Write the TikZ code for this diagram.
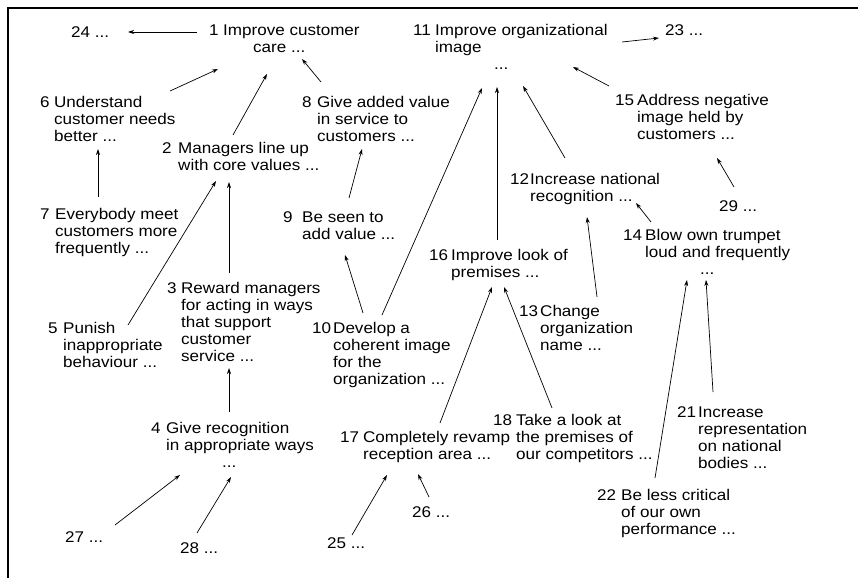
\documentclass[tikz,border=0pt]{standalone}
\usepackage{fontspec}
\setmainfont[FakeStretch=1.1]{Liberation Sans}
\usetikzlibrary{arrows.meta,calc}
\newcommand{\cn}[3]{\begin{tabular}{@{}p{#1pt}@{}l@{}}#2&#3\end{tabular}}
\begin{document}
\begin{tikzpicture}[x=1pt,y=-1pt,
  every node/.style={font=\fontsize{15.5}{16.8}\selectfont,inner sep=0pt,anchor=north west},
  arr/.style={line width=0.7pt,-{Stealth[length=6pt,width=4pt]}},
  frame/.style={line width=2pt}]
\useasboundingbox (0,0) rectangle (858,578);
\draw[frame] (858,8.3) -- (7.7,8.3) -- (7.7,578);
% nodes
\node (n1) at (209,24) {\cn{14}{1}{Improve customer\\&\hspace*{30pt}care ...}};
\node (n24) at (71,26) {24 ...};
\node (n11) at (413,24) {\cn{22}{11}{Improve organizational\\&image\\&\hspace*{59pt}...}};
\node (n23) at (665,24) {23 ...};
\node (n6) at (40,96) {\cn{14}{6}{Understand\\&customer needs\\&better ...}};
\node (n8) at (302,96) {\cn{15}{8}{Give added value\\&in service to\\&customers ...}};
\node (n2) at (162,142) {\cn{16}{2}{Managers line up\\&with core values ...}};
\node (n15) at (615,94) {\cn{22}{15}{Address negative\\&image held by\\&customers ...}};
\node (n12) at (510,173) {\cn{20}{12}{Increase national\\&recognition ...}};
\node (n29) at (719,200) {29 ...};
\node (n7) at (40,208) {\cn{15}{7}{Everybody meet\\&customers more\\&frequently ...}};
\node (n9) at (283,211) {\cn{19}{9}{Be seen to\\&add value ...}};
\node (n14) at (623,229) {\cn{22}{14}{Blow own trumpet\\&loud and frequently\\&\hspace*{55pt}...}};
\node (n16) at (429,249) {\cn{22}{16}{Improve look of\\&premises ...}};
\node (n3) at (167,282) {\cn{14}{3}{Reward managers\\&for acting in ways\\&that support\\&customer\\&service ...}};
\node (n13) at (519,305) {\cn{21}{13}{Change\\&organization\\&name ...}};
\node (n5) at (48,322) {\cn{15}{5}{Punish\\&inappropriate\\&behaviour ...}};
\node (n10) at (312,322) {\cn{21}{10}{Develop a\\&coherent image\\&for the\\&organization ...}};
\node (n21) at (677,406) {\cn{21}{21}{Increase\\&representation\\&on national\\&bodies ...}};
\node (n18) at (493,414) {\cn{23}{18}{Take a look at\\&the premises of\\&our competitors ...}};
\node (n4) at (151,422) {\cn{15}{4}{Give recognition\\&in appropriate ways\\&\hspace*{56pt}...}};
\node (n17) at (340,431) {\cn{23}{17}{Completely revamp\\&reception area ...}};
\node (n22) at (597,489) {\cn{24}{22}{Be less critical\\&of our own\\&performance ...}};
\node (n26) at (412,506) {26 ...};
\node (n27) at (65,531) {27 ...};
\node (n25) at (327,537) {25 ...};
\node (n28) at (180,542) {28 ...};
% connectors
\draw[arr] ($(n1.north west)+(-12,8)$) -- ($(n24.north west)+(57,6)$);
\draw[arr] ($(n11.north west)+(209,18)$) -- ($(n23.north west)+(-6,14)$);
\draw[arr] ($(n6.north west)+(130,-5)$) -- ($(n1.north west)+(9,45)$);
\draw[arr] ($(n2.north west)+(71,-7)$) -- ($(n1.north west)+(58,50)$);
\draw[arr] ($(n8.north west)+(19,-14)$) -- ($(n1.north west)+(93,35)$);
\draw[arr] ($(n7.north west)+(58,-11)$) -- ($(n6.north west)+(58,53)$);
\draw[arr] ($(n5.north west)+(80,3)$) -- ($(n2.north west)+(54,39)$);
\draw[arr] ($(n3.north west)+(62,-9)$) -- ($(n2.north west)+(67,40)$);
\draw[arr] ($(n9.north west)+(66,-13)$) -- ($(n8.north west)+(60,53)$);
\draw[arr] ($(n4.north west)+(78,-10)$) -- ($(n3.north west)+(62,86)$);
\draw[arr] ($(n10.north west)+(51,-9)$) -- ($(n9.north west)+(62,44)$);
\draw[arr] ($(n10.north west)+(70,-7)$) -- ($(n11.north west)+(69,64)$);
\draw[arr] ($(n16.north west)+(68,-9)$) -- ($(n11.north west)+(84,63)$);
\draw[arr] ($(n12.north west)+(55,-15)$) -- ($(n11.north west)+(110,62)$);
\draw[arr] ($(n15.north west)+(-6,-8)$) -- ($(n11.north west)+(160,43)$);
\draw[arr] ($(n29.north west)+(15,-13)$) -- ($(n15.north west)+(102,64)$);
\draw[arr] ($(n14.north west)+(28,-7)$) -- ($(n12.north west)+(126,30)$);
\draw[arr] ($(n13.north west)+(78,-8)$) -- ($(n12.north west)+(77,44)$);
\draw[arr] ($(n17.north west)+(100,-8)$) -- ($(n16.north west)+(63,38)$);
\draw[arr] ($(n18.north west)+(59,-6)$) -- ($(n16.north west)+(75,38)$);
\draw[arr] ($(n22.north west)+(58,-11)$) -- ($(n14.north west)+(64,51)$);
\draw[arr] ($(n21.north west)+(36,-14)$) -- ($(n14.north west)+(83,51)$);
\draw[arr] ($(n27.north west)+(50,-6)$) -- ($(n4.north west)+(29,53)$);
\draw[arr] ($(n28.north west)+(17,-9)$) -- ($(n4.north west)+(80,55)$);
\draw[arr] ($(n25.north west)+(25,-2)$) -- ($(n17.north west)+(47,44)$);
\draw[arr] ($(n26.north west)+(17,-9)$) -- ($(n17.north west)+(78,43)$);
\end{tikzpicture}
\end{document}
